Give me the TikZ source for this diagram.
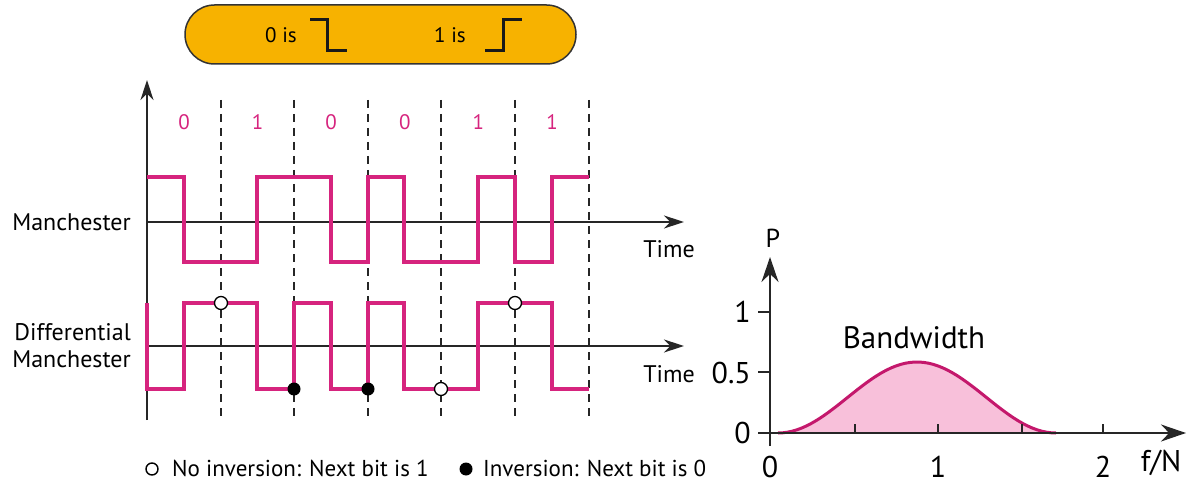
\documentclass[tikz,border=0pt]{standalone}
\usepackage{fontspec}
\setmainfont{PT Sans}
\usetikzlibrary{arrows.meta}
\definecolor{sigpink}{RGB}{214,36,126}
\definecolor{pillorange}{RGB}{247,178,0}
\definecolor{bandfill}{RGB}{248,192,218}
\definecolor{bandline}{RGB}{196,24,108}

\begin{document}
\begin{tikzpicture}[x=1pt,y=-1pt,
  every node/.style={inner sep=0pt,font=\fontsize{21}{25}\selectfont},
  axisline/.style={line width=1.6pt,black!85},
  gridline/.style={line width=1.8pt,black!85,dash pattern=on 8pt off 6pt},
  sigline/.style={line width=3.2pt,sigpink,line join=miter},
  stepsym/.style={line width=3pt,black!90},
  openbit/.style={draw=black,fill=white,line width=1.3pt},
  flipbit/.style={fill=black},
  bitlabel/.style={text=sigpink},
  sidelabel/.style={font=\fontsize{24}{27}\selectfont},
  keylabel/.style={font=\fontsize{23}{26}\selectfont},
  plotlabel/.style={font=\fontsize{30}{32}\selectfont}]
\useasboundingbox (0,0) rectangle (1191,489);

% rule box on top
\draw[fill=pillorange,draw=black!80,line width=1.5pt,rounded corners=29.5pt] (185,5) rectangle (576,64);
\node (zerois) at (281,35) {0 is};
\node (oneis) at (450,35) {1 is};
\draw[stepsym] (310,20) -| (327,51) -- (347,51);
\draw[stepsym] (485,51) -| (503,20) -- (522,20);

% axes of the two signals
\coordinate (ybot) at (147,420);
\coordinate (ytop) at (147,80);
\coordinate (man0) at (147,222);
\coordinate (man1) at (684,222);
\coordinate (dif0) at (147,346);
\coordinate (dif1) at (684,346);
\draw[axisline,-{Stealth[length=20pt,width=13pt]}] (ybot) -- (ytop);
\draw[axisline,-{Stealth[length=20pt,width=13pt]}] (man0) -- (man1);
\draw[axisline,-{Stealth[length=20pt,width=13pt]}] (dif0) -- (dif1);
\node[sidelabel,anchor=east] (manlabel) at (131,222) {Manchester};
\node[sidelabel,anchor=east,align=right] (diflabel) at (131,346) {Differential\\Manchester};
\node[sidelabel] (time1) at (669,249) {Time};
\node[sidelabel] (time2) at (669,374) {Time};

% bit cells
\foreach \x in {221,294,368,441,515,589}
  \draw[gridline] (\x,100) -- (\x,420);
\foreach \b [count=\i from 0] in {0,1,0,0,1,1}
  \node[bitlabel] (bit\i) at (184+73.6*\i,122) {\b};

% Manchester
\draw[sigline] (147,177) -| (184,262) -| (257,177) -| (331,262) -| (368,177)
  -| (404,262) -| (478,177) -| (515,262) -| (552,177) -- (589,177);
% Differential Manchester
\draw[sigline] (147,303) -- (147,389) -| (184,303) -| (257,389) -| (294,303)
  -| (331,389) -| (368,303) -| (404,389) -| (478,303) -| (552,389) -- (589,389);
\foreach \x/\y in {221/303, 441/389, 515/303}
  \draw[openbit] (\x,\y) circle (6.5);
\foreach \x/\y in {294/389, 368/389}
  \fill[flipbit] (\x,\y) circle (6.5);

% legend
\draw[line width=1.4pt] (152,469) circle (6);
\node[keylabel,anchor=west] (nolabel) at (172,468) {No inversion: Next bit is 1};
\fill (466,469) circle (6.5);
\node[keylabel,anchor=west] (invlabel) at (483,468) {Inversion: Next bit is 0};

% bandwidth plot
\coordinate (pbot) at (770,446);
\coordinate (ptop) at (770,257);
\coordinate (fleft) at (758,433);
\coordinate (fright) at (1186,433);
\fill[bandfill] plot[domain=778:1056,samples=60] (\x,{433-35.5*(1+cos(1.295*(\x-917)))});
\draw[line width=3pt,bandline] plot[domain=778:1056,samples=60] (\x,{433-35.5*(1+cos(1.295*(\x-917)))});
\draw[axisline,line width=2pt,-{Stealth[length=25pt,width=17pt]}] (pbot) -- (ptop);
\draw[axisline,line width=2pt,-{Stealth[length=25pt,width=17pt]}] (fleft) -- (fright);
\foreach \y in {312,372}
  \draw[axisline,line width=2pt] (758,\y) -- (770,\y);
\foreach \x in {855,938,1022,1103}
  \draw[axisline,line width=2pt] (\x,433) -- (\x,424);
\node[font=\fontsize{26}{28}\selectfont] (plabel) at (773,238) {P};
\node[plotlabel,anchor=east] (p1) at (751,312) {1};
\node[plotlabel,anchor=east] (p05) at (751,373) {0.5};
\node[plotlabel,anchor=east] (p0) at (751,433) {0};
\node[plotlabel] (f0) at (770,467) {0};
\node[plotlabel] (f1) at (938,467) {1};
\node[plotlabel] (f2) at (1103,467) {2};
\node[plotlabel] (fn) at (1161,463) {f/N};
\node[font=\fontsize{31}{34}\selectfont] (bw) at (914,338) {Bandwidth};
\end{tikzpicture}
\end{document}
